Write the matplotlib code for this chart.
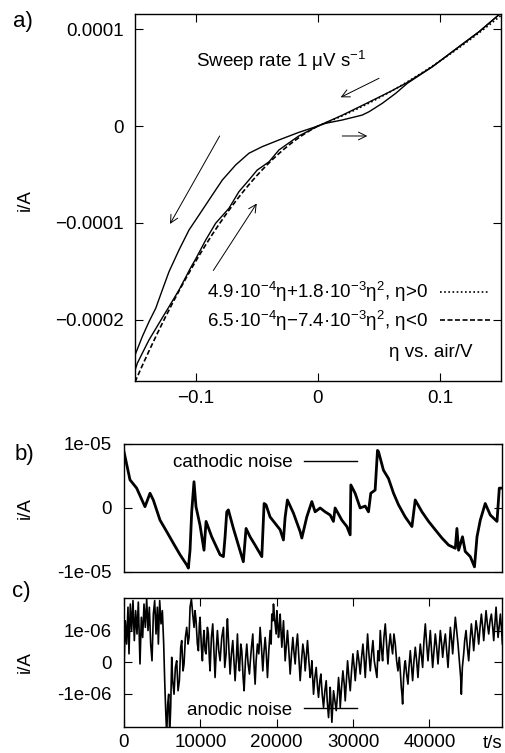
import numpy as np
import matplotlib
matplotlib.use("Agg")
import matplotlib.pyplot as plt

plt.rcParams['font.family'] = ['Liberation Sans', 'DejaVu Sans']
plt.rcParams['font.size'] = 13.5
plt.rcParams['mathtext.fontset'] = 'custom'
plt.rcParams['mathtext.rm'] = 'Liberation Sans'
plt.rcParams['mathtext.it'] = 'Liberation Sans:italic'
plt.rcParams['mathtext.default'] = 'regular'

# ---------------- panel a data ----------------
cath_eta = [0.149, 0.132, 0.1156, 0.0937, 0.072, 0.06, 0.04, 0.02, 0.0, -0.0156,
            -0.032, -0.0457, -0.0566, -0.0675, -0.0784, -0.0866, -0.0975, -0.1057,
            -0.1139, -0.1221, -0.1276, -0.133, -0.1385, -0.144, -0.1494, -0.1508]
cath_i = [1.155e-4, 9.72e-5, 8.18e-5, 6.11e-5, 4.4e-5, 3.6e-5, 2.35e-5, 1.12e-5, 0.0, -6.5e-6,
          -1.44e-5, -2.13e-5, -2.81e-5, -4.02e-5, -5.57e-5, -7.11e-5, -9.18e-5, -1.072e-4,
          -1.278e-4, -1.502e-4, -1.691e-4, -1.88e-4, -2.018e-4, -2.172e-4, -2.344e-4, -2.41e-4]

anod_eta = [-0.1508, -0.1481, -0.144, -0.1385, -0.1303, -0.1221, -0.1139, -0.1043, -0.1002,
            -0.092, -0.0839, -0.073, -0.0648, -0.0566, -0.0498, -0.0402, -0.032, -0.016, 0.0,
            0.0063, 0.0199, 0.0309, 0.0363, 0.0418, 0.0527, 0.0637, 0.0732, 0.0937, 0.1156,
            0.132, 0.149]
anod_i = [-2.55e-4, -2.447e-4, -2.343e-4, -2.206e-4, -2.034e-4, -1.863e-4, -1.691e-4, -1.46e-4,
          -1.37e-4, -1.175e-4, -1.003e-4, -8.49e-5, -6.77e-5, -5.57e-5, -4.54e-5, -3.7e-5,
          -2.47e-5, -1.05e-5, 0.0, 2.8e-6, 6.2e-6, 9.6e-6, 1.13e-5, 1.47e-5, 2.34e-5, 3.37e-5,
          4.4e-5, 6.11e-5, 8.18e-5, 9.72e-5, 1.155e-4]

# fit coefficients given in the legend (linear, quadratic)
fit_pos = [4.9e-4, 1.8e-3]
fit_neg = [6.5e-4, -7.4e-3]
fit_pos_label = r'4.9·10$^{-4}$η+1.8·10$^{-3}$η$^{2}$, η>0'
fit_neg_label = r'6.5·10$^{-4}$η−7.4·10$^{-3}$η$^{2}$, η<0'

a_xticks = [-0.1, 0.0, 0.1]
a_xticklabels = ['−0.1', '0', '0.1']
a_yticks = [1e-4, 0.0, -1e-4, -2e-4]
a_yticklabels = ['0.0001', '0', '−0.0001', '−0.0002']

# arrows (tail, head) in data coordinates
arrows = [((0.050, 4.92e-5), (0.0186, 2.96e-5)),
          ((0.0199, -1.03e-5), (0.0404, -1.03e-5)),
          ((-0.0806, -1.03e-5), (-0.1213, -1.01e-4)),
          ((-0.0858, -1.49e-4), (-0.0502, -7.99e-5))]

# ---------------- panel b data ----------------
cath_t = [0, 786, 1660, 2750, 3410, 3840, 4720, 5600, 6460, 7340, 8220, 8430, 8650, 8870,
          9170, 9430, 9960, 10480, 10750, 11490, 12580, 13020, 13240, 13460, 13670, 14330,
          14980, 15630, 15990, 16510, 17170, 18050, 18350, 18600, 19130, 19790, 20450, 20880,
          21100, 21400, 22190, 23070, 23290, 23940, 24600, 25030, 25690, 26340, 27000, 27430,
          27650, 28530, 29190, 29620, 29710, 30270, 30930, 31590, 32020, 32320, 32890, 33200,
          33330, 33980, 34640, 35300, 35950, 36830, 37710, 38140, 39020, 39890, 40760, 41640,
          42510, 43390, 43600, 43820, 44330, 44690, 45350, 45900, 46230, 46660, 47310, 47970,
          48850, 49150, 49500]
cath_noise = [0.88, 0.44, 0.31, 0.02, 0.23, 0.125, -0.19, -0.37, -0.55, -0.73, -0.89, -0.94,
              -0.66, -0.06, 0.41, 0.02, -0.27, -0.66, -0.21, -0.45, -0.73, -0.76, -0.45, -0.06,
              -0.03, -0.32, -0.58, -0.84, -0.32, -0.45, -0.58, -0.76, 0.07, 0.05, -0.14, -0.24,
              -0.34, -0.5, -0.15, 0.125, -0.08, -0.37, -0.47, -0.14, 0.1, -0.06, 0.0, -0.06,
              -0.11, -0.21, 0.0, -0.19, -0.29, -0.42, 0.36, 0.23, 0.0, 0.03, -0.06, 0.23, 0.28,
              0.9, 0.88, 0.59, 0.46, 0.23, 0.05, -0.14, -0.29, 0.125, -0.06, -0.21, -0.34, -0.47,
              -0.58, -0.63, -0.32, -0.66, -0.45, -0.68, -0.76, -0.92, -0.45, -0.19, 0.07, -0.11,
              -0.21, 0.31, 0.31]  # units of 1e-5 A

b_yticks = [1e-5, 0.0, -1e-5]
b_yticklabels = ['1e-05', '0', '-1e-05']

# ---------------- panel c data ----------------
anod_t = [0, 175, 350, 525, 656, 831, 1006, 1180, 1355, 1530, 1705, 1880, 2098, 2273, 2448,
          2622, 2797, 2972, 3147, 3322, 3496, 3671, 3846, 4021, 4196, 4370, 4502, 4676, 4851,
          5026, 5201, 5332, 5463, 5594, 5725, 5856, 5987, 6118, 6250, 6380, 6555, 6730, 6905,
          7080, 7255, 7430, 7560, 7735, 7866, 8041, 8216, 8391, 8522, 8653, 8828, 9003, 9177,
          9308, 9440, 9614, 9746, 9877, 9964, 10139, 10270, 10401, 10488, 10620, 10750, 10925,
          11056, 11188, 11275, 11450, 11625, 11800, 11930, 12105, 12236, 12411, 12586, 12805,
          13023, 13198, 13373, 13460, 13547, 13722, 13897, 14072, 14247, 14421, 14553, 14727,
          14858, 14990, 15121, 15296, 15427, 15601, 15732, 15907, 16082, 16257, 16432,
          16519, 16694, 16869, 17000, 17175, 17306, 17480, 17655, 17830, 18005, 18180, 18311,
          18486, 18617, 18791, 18966, 19141, 19272, 19360, 19490, 19578, 19709, 19796, 19928,
          20015, 20146, 20234, 20365, 20452, 20583, 20671, 20802, 20889, 21020, 21108, 21239,
          21413, 21588, 21763, 21938, 22113, 22244, 22419, 22550, 22724, 22899, 23074, 23249,
          23424, 23598, 23730, 23861, 24035, 24210, 24385, 24516, 24604, 24735, 24822, 24997,
          25172, 25346, 25478, 25652, 25784, 25958, 26133, 26308, 26483, 26614, 26789, 26920,
          27007, 27138, 27226, 27357, 27444, 27619, 27794, 27969, 28100, 28231, 28318, 28493,
          28668, 28842, 28974, 29148, 29280, 29454, 29629, 29804, 29979, 30153, 30284, 30459,
          30590, 30765, 30940, 31115, 31290, 31464, 31596, 31770, 31902, 32076, 32251, 32426,
          32601, 32775,
          33125, 33256, 33430, 33562, 33736, 33867, 34042, 34217, 34392, 34567, 34698, 34873,
          35004, 35178, 35353, 35528, 35703, 35878, 36052, 36184, 36315, 36402, 36490, 36621,
          36752, 36839, 37014, 37189, 37320, 37495, 37626, 37800, 37975, 38150, 38325, 38500,
          38631, 38806, 38937, 39111, 39286, 39461, 39636, 39811, 39985, 40117, 40248, 40422,
          40597, 40772, 40947, 41122, 41296, 41428, 41602, 41733, 41908, 42083, 42258, 42433,
          42607, 42739, 42913, 43044, 43219, 43394, 43569, 43744, 43918, 44093, 44181, 44312,
          44487, 44618, 44792, 44967, 45142, 45317, 45492, 45666, 45798, 45972, 46103, 46278,
          46453, 46628, 46803, 46977, 47109, 47283, 47414, 47589, 47764, 47939, 48114, 48288,
          48420, 48595, 48726, 48857, 48988, 49163, 49294, 49425, 49556]
anod_noise = [-0.28, 1.31, 0.57, 1.74, 0.26, 1.84, 1.00, 1.95, 0.68, 1.63, 0.89, 1.90, -0.06,
              1.42, 0.78, 1.84, 1.10, 2.00, 1.00, 1.74, 0.57, 0.04, 1.52, 1.95, 0.89, 1.74, 0.57,
              1.95, 1.21, 1.63, 0.57, -0.59, -1.54, -2.3, -1.33, -1.02, -2.3, -1.44, 0.15, -0.59,
              -1.02, -0.17, 0.04, -0.91, -0.59, 0.47, 0.68, -0.28, -0.06, 0.78, 1.10, 0.57, 0.78,
              1.74, 2.00, 1.52, 1.10, 1.63, 1.31, 0.57, 0.36, 1.21, 1.42, 0.47, 0.04, 0.78, 1.00,
              0.36, 0.26, 1.10, 0.89, 0.04, -0.28, 0.78, 1.21, 0.26, -0.49, 0.47, 1.00, 0.36,
              0.04, 0.78, 1.10, -0.17, 0.26, 1.00, 1.37, 0.47, -0.38, 0.26, 0.68, -0.06, -0.59,
              0.15, 0.89, 0.04, -0.28, 0.57, 0.36, -0.49, -0.91, 0.04, 0.57, -0.06, -0.38,
              -0.06, 0.47, 0.89, 0.04, -0.70, 0.04, 0.57, 0.26, 1.10, 0.47, -0.28, 0.26, 0.78,
              0.36, -0.49, 0.36, 1.00, 0.57, 1.52, 1.31, 1.84, 1.42, 1.21, 0.89, 1.63, 1.21,
              0.78, 1.10, 1.52, 0.89, 0.47, 1.00, 1.31, 0.57, 0.04, 0.47, 1.00, 0.36, -0.38,
              0.26, 0.78, 0.36, -0.06, 0.47, 0.89, 0.15, -0.59, 0.04, 0.57, 0.26, -0.28, 0.15,
              0.68, 0.04, -0.49, -0.28, 0.04, -0.59, -1.02, -0.49, -0.17, -0.80, -1.12, -0.59,
              -0.38, -1.02, -1.44, -0.91, -0.59, -1.23, -1.76, -1.23, -0.80, -1.44, -1.91, -1.33,
              -0.91, -1.23, -1.54, -1.02, -0.49, -0.91, -1.44, -0.80, -0.28, -0.70, -1.23, -0.49,
              0.04, -0.49, -0.91, -0.28, 0.26, -0.17, -0.59, -0.06, 0.36, 0.04, -0.38, 0.15,
              0.57, 0.04, -0.49, 0.26, 0.89, 0.26, -0.28, 0.26, 0.68, 0.04,
              -0.49, 0.36, 0.04, 1.00, 0.36, 0.04, 0.78, 1.21, 0.57, -0.06, 0.47, 0.89, 0.57,
              0.26, 0.89, 0.57, 0.04, -0.28, 0.15, -0.28, -0.80, -1.02, -1.33, -0.49, -0.06,
              0.04, -0.38, -0.70, -0.17, 0.36, -0.06, -0.59, 0.04, 0.47, 0.04, -0.49, 0.04,
              0.57, 0.26, -0.17, 0.68, 1.21, 0.57, 0.04, 0.57, 1.00, 0.47, -0.17, 0.36, 0.89,
              0.47, -0.06, 0.57, 1.00, 0.57, 0.15, 0.57, 0.89, 0.36, -0.17, 0.57, 1.10, 0.68,
              0.26, 0.89, 1.42, 1.00, 0.57, 0.04, -0.49, -1.02, -0.17, 0.26, 0.68, 1.00, 0.47,
              0.04, 0.68, 1.21, 0.78, 0.36, 0.89, 1.31, 1.00, 0.57, 1.10, 1.52, 1.10, 0.68,
              1.21, 1.63, 1.21, 0.89, 1.31, 1.52, 1.10, 0.68, 1.31, 1.74, 1.21, 0.78, 1.21,
              1.52, 1.10, 0.57]  # units of 1e-6 A

c_yticks = [1e-6, 0.0, -1e-6]
c_yticklabels = ['1e-06', '0', '-1e-06']
c_xticks = [0, 10000, 20000, 30000, 40000]
c_xticklabels = ['0', '10000', '20000', '30000', '40000']

# ---------------- figure ----------------
fig = plt.figure(figsize=(5.05, 7.53), dpi=100)
axa = fig.add_axes([0.2673, 0.4940, 0.7248, 0.4874])
axb = fig.add_axes([0.2455, 0.2404, 0.7485, 0.1700])
axc = fig.add_axes([0.2455, 0.0345, 0.7485, 0.1713])

for ax in (axa, axb, axc):
    for s in ax.spines.values():
        s.set_linewidth(1.0)

# panel a
axa.plot(cath_eta, cath_i, color='k', lw=1.0)
axa.plot(anod_eta, anod_i, color='k', lw=1.0)
eta_p = np.linspace(0, 0.15, 200)
eta_n = np.linspace(-0.15, 0, 200)
lp, = axa.plot(eta_p, fit_pos[0] * eta_p + fit_pos[1] * eta_p ** 2, color='k', lw=1.2,
               ls=(0, (1, 1.5)), label=fit_pos_label)
ln, = axa.plot(eta_n, fit_neg[0] * eta_n + fit_neg[1] * eta_n ** 2, color='k', lw=1.2,
               ls=(0, (3, 1.5)), label=fit_neg_label)
axa.set_xlim(-0.15, 0.15)
axa.set_ylim(-2.63e-4, 1.155e-4)
axa.set_xticks(a_xticks)
axa.set_xticklabels(a_xticklabels)
axa.set_yticks(a_yticks)
axa.set_yticklabels(a_yticklabels)
axa.tick_params(direction='in', length=6, width=0.8, top=True, right=True, pad=8)
axa.tick_params(axis='x', pad=6.5)
for tail, head in arrows:
    axa.annotate('', xy=head, xytext=tail,
                 arrowprops=dict(arrowstyle='->', lw=0.7, color='k', shrinkA=0, shrinkB=0,
                                 mutation_scale=14))
axa.text(-0.1, 6.1e-5, r'Sweep rate 1 μV s$^{-1}$', ha='left', va='baseline')
axa.legend(handles=[lp, ln], loc='center right', bbox_to_anchor=(0.97, 0.203),
           frameon=False, markerfirst=False, handlelength=2.67, handletextpad=0.64,
           borderpad=0, borderaxespad=0, labelspacing=0.25)
axa.text(0.921, 0.079, 'η vs. air/V', transform=axa.transAxes, ha='right', va='center')

# panel b
axb.plot(cath_t, np.array(cath_noise) * 1e-5, color='k', lw=2.0, label='cathodic noise')
axb.set_xlim(0, 49500)
axb.set_ylim(-1e-5, 1e-5)
axb.set_yticks(b_yticks)
axb.set_yticklabels(b_yticklabels)
axb.set_xticks([])
axb.tick_params(direction='in', length=6, width=0.8, right=True, pad=9)
axb.legend(loc='center right', bbox_to_anchor=(0.616, 0.859), frameon=False,
           markerfirst=False, handlelength=2.8, handletextpad=0.64, borderpad=0,
           borderaxespad=0, handleheight=0.5)
for lh in axb.get_legend().get_lines():
    lh.set_linewidth(1.0)

# panel c
axc.plot(anod_t, np.array(anod_noise) * 1e-6, color='k', lw=1.2, label='anodic noise')
axc.set_xlim(0, 49500)
axc.set_ylim(-2.06e-6, 2.03e-6)
axc.set_yticks(c_yticks)
axc.set_yticklabels(c_yticklabels)
axc.set_xticks(c_xticks)
axc.set_xticklabels(c_xticklabels)
axc.tick_params(direction='in', length=6, width=0.8, right=True, top=True, pad=9)
axc.tick_params(axis='x', pad=5)
axc.legend(loc='center right', bbox_to_anchor=(0.616, 0.132), frameon=False,
           markerfirst=False, handlelength=2.8, handletextpad=0.64, borderpad=0,
           borderaxespad=0)
for lh in axc.get_legend().get_lines():
    lh.set_linewidth(1.0)
fig.text(0.976, 0.006, 't/s', ha='center', va='baseline')

# labels
for yfrac in (0.734, 0.325, 0.121):
    fig.text(0.0495, yfrac, 'i/A', rotation=90, ha='center', va='center')
fig.text(0.0455, 0.971, 'a)', ha='center', va='center', fontsize=16)
fig.text(0.0475, 0.396, 'b)', ha='center', va='center', fontsize=16)
fig.text(0.0416, 0.214, 'c)', ha='center', va='center', fontsize=16)

fig.savefig('out.png', dpi=100)
